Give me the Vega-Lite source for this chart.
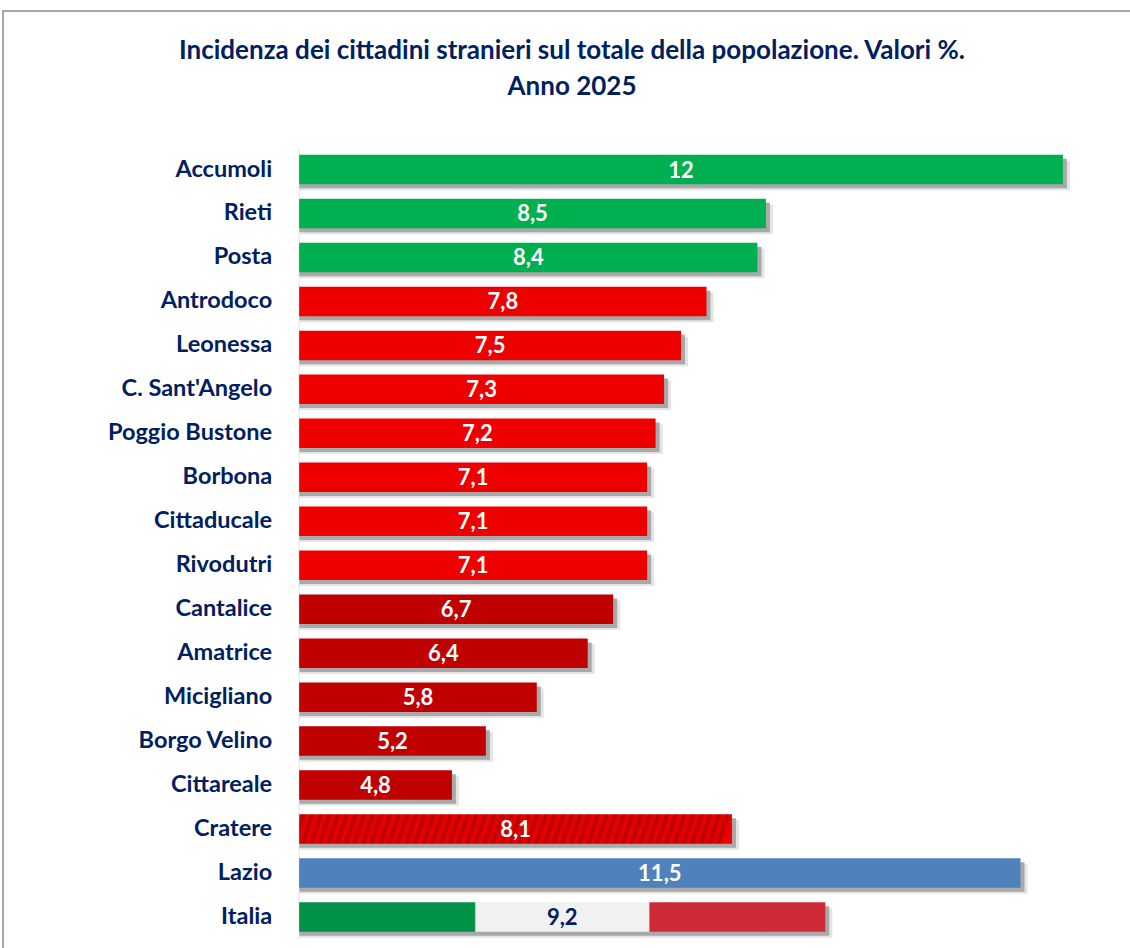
{
  "$schema": "https://vega.github.io/schema/vega-lite/v6.json",
  "width": 1138,
  "height": 1064.5,
  "autosize": {"type": "none"},
  "padding": {"left": 3, "top": 11, "right": 0, "bottom": 0},
  "background": "white",
  "config": {
    "locale": {"number": {"decimal": ",", "thousands": ".", "grouping": [3], "currency": ["€", ""]}},
    "view": {"stroke": "#8c8c8c", "strokeWidth": 1.5},
    "font": "Lato"
  },
  "title": {
    "text": ["Incidenza dei cittadini stranieri sul totale della popolazione. Valori %.", "Anno 2025"],
    "fontSize": 26,
    "font": "Lato",
    "fontWeight": "bold",
    "color": "#002060",
    "anchor": "middle",
    "frame": "group",
    "lineHeight": 36,
    "baseline": "top",
    "offset": -89
  },
  "data": {
    "values": [
      {"comune": "Accumoli", "valore": 12, "classe": "sopra"},
      {"comune": "Rieti", "valore": 8.5, "classe": "sopra"},
      {"comune": "Posta", "valore": 8.4, "classe": "sopra"},
      {"comune": "Antrodoco", "valore": 7.8, "classe": "medio"},
      {"comune": "Leonessa", "valore": 7.5, "classe": "medio"},
      {"comune": "C. Sant'Angelo", "valore": 7.3, "classe": "medio"},
      {"comune": "Poggio Bustone", "valore": 7.2, "classe": "medio"},
      {"comune": "Borbona", "valore": 7.1, "classe": "medio"},
      {"comune": "Cittaducale", "valore": 7.1, "classe": "medio"},
      {"comune": "Rivodutri", "valore": 7.1, "classe": "medio"},
      {"comune": "Cantalice", "valore": 6.7, "classe": "sotto"},
      {"comune": "Amatrice", "valore": 6.4, "classe": "sotto"},
      {"comune": "Micigliano", "valore": 5.8, "classe": "sotto"},
      {"comune": "Borgo Velino", "valore": 5.2, "classe": "sotto"},
      {"comune": "Cittareale", "valore": 4.8, "classe": "sotto"},
      {"comune": "Cratere", "valore": 8.1, "classe": "cratere"},
      {"comune": "Lazio", "valore": 11.5, "classe": "lazio"},
      {"comune": "Italia", "valore": 9.2, "classe": "italia"}
    ]
  },
  "encoding": {
    "y": {
      "field": "comune",
      "type": "nominal",
      "axis": null,
      "scale": {
        "domain": ["Accumoli", "Rieti", "Posta", "Antrodoco", "Leonessa", "C. Sant'Angelo", "Poggio Bustone", "Borbona", "Cittaducale", "Rivodutri", "Cantalice", "Amatrice", "Micigliano", "Borgo Velino", "Cittareale", "Cratere", "Lazio", "Italia"],
        "range": [143.75, 920.75],
        "paddingInner": 0.329,
        "paddingOuter": 0
      }
    }
  },
  "layer": [
    {
      "mark": {"type": "bar", "color": "#e4e4e4", "xOffset": 7, "yOffset": 6},
      "encoding": {
        "x": {"field": "valore", "type": "quantitative", "axis": null, "scale": {"domain": [-0.49, 12.92], "nice": false, "zero": false}},
        "x2": {"datum": 3}
      }
    },
    {
      "mark": {"type": "bar", "color": "#a9a9a9", "xOffset": 4, "yOffset": 4},
      "encoding": {
        "x": {"field": "valore", "type": "quantitative"},
        "x2": {"datum": 3}
      }
    },
    {
      "mark": {"type": "tick", "color": "#d9d9d9", "thickness": 1, "size": 44, "orient": "vertical"},
      "encoding": {
        "x": {"datum": 3, "type": "quantitative"}
      }
    },
    {
      "transform": [{"filter": "datum.classe !== 'cratere' && datum.classe !== 'italia'"}],
      "mark": {"type": "bar"},
      "encoding": {
        "x": {"field": "valore", "type": "quantitative"},
        "x2": {"datum": 3},
        "color": {
          "field": "classe",
          "type": "nominal",
          "legend": null,
          "scale": {"domain": ["sopra", "medio", "sotto", "lazio"], "range": ["#00B050", "#EE0000", "#C00000", "#4F81BD"]}
        }
      }
    },
    {
      "transform": [{"filter": "datum.classe === 'cratere'"}],
      "mark": {
        "type": "bar",
        "fill": {
          "gradient": "linear",
          "x1": 0, "y1": 0, "x2": 1, "y2": 0.023,
          "stops": [
            {"offset": 0, "color": "#EE0000"}, {"offset": 0.01, "color": "#B80000"},
            {"offset": 0.02, "color": "#EE0000"}, {"offset": 0.03, "color": "#B80000"},
            {"offset": 0.04, "color": "#EE0000"}, {"offset": 0.05, "color": "#B80000"},
            {"offset": 0.06, "color": "#EE0000"}, {"offset": 0.07, "color": "#B80000"},
            {"offset": 0.08, "color": "#EE0000"}, {"offset": 0.09, "color": "#B80000"},
            {"offset": 0.10, "color": "#EE0000"}, {"offset": 0.11, "color": "#B80000"},
            {"offset": 0.12, "color": "#EE0000"}, {"offset": 0.13, "color": "#B80000"},
            {"offset": 0.14, "color": "#EE0000"}, {"offset": 0.15, "color": "#B80000"},
            {"offset": 0.16, "color": "#EE0000"}, {"offset": 0.17, "color": "#B80000"},
            {"offset": 0.18, "color": "#EE0000"}, {"offset": 0.19, "color": "#B80000"},
            {"offset": 0.20, "color": "#EE0000"}, {"offset": 0.21, "color": "#B80000"},
            {"offset": 0.22, "color": "#EE0000"}, {"offset": 0.23, "color": "#B80000"},
            {"offset": 0.24, "color": "#EE0000"}, {"offset": 0.25, "color": "#B80000"},
            {"offset": 0.26, "color": "#EE0000"}, {"offset": 0.27, "color": "#B80000"},
            {"offset": 0.28, "color": "#EE0000"}, {"offset": 0.29, "color": "#B80000"},
            {"offset": 0.30, "color": "#EE0000"}, {"offset": 0.31, "color": "#B80000"},
            {"offset": 0.32, "color": "#EE0000"}, {"offset": 0.33, "color": "#B80000"},
            {"offset": 0.34, "color": "#EE0000"}, {"offset": 0.35, "color": "#B80000"},
            {"offset": 0.36, "color": "#EE0000"}, {"offset": 0.37, "color": "#B80000"},
            {"offset": 0.38, "color": "#EE0000"}, {"offset": 0.39, "color": "#B80000"},
            {"offset": 0.40, "color": "#EE0000"}, {"offset": 0.41, "color": "#B80000"},
            {"offset": 0.42, "color": "#EE0000"}, {"offset": 0.43, "color": "#B80000"},
            {"offset": 0.44, "color": "#EE0000"}, {"offset": 0.45, "color": "#B80000"},
            {"offset": 0.46, "color": "#EE0000"}, {"offset": 0.47, "color": "#B80000"},
            {"offset": 0.48, "color": "#EE0000"}, {"offset": 0.49, "color": "#B80000"},
            {"offset": 0.50, "color": "#EE0000"}, {"offset": 0.51, "color": "#B80000"},
            {"offset": 0.52, "color": "#EE0000"}, {"offset": 0.53, "color": "#B80000"},
            {"offset": 0.54, "color": "#EE0000"}, {"offset": 0.55, "color": "#B80000"},
            {"offset": 0.56, "color": "#EE0000"}, {"offset": 0.57, "color": "#B80000"},
            {"offset": 0.58, "color": "#EE0000"}, {"offset": 0.59, "color": "#B80000"},
            {"offset": 0.60, "color": "#EE0000"}, {"offset": 0.61, "color": "#B80000"},
            {"offset": 0.62, "color": "#EE0000"}, {"offset": 0.63, "color": "#B80000"},
            {"offset": 0.64, "color": "#EE0000"}, {"offset": 0.65, "color": "#B80000"},
            {"offset": 0.66, "color": "#EE0000"}, {"offset": 0.67, "color": "#B80000"},
            {"offset": 0.68, "color": "#EE0000"}, {"offset": 0.69, "color": "#B80000"},
            {"offset": 0.70, "color": "#EE0000"}, {"offset": 0.71, "color": "#B80000"},
            {"offset": 0.72, "color": "#EE0000"}, {"offset": 0.73, "color": "#B80000"},
            {"offset": 0.74, "color": "#EE0000"}, {"offset": 0.75, "color": "#B80000"},
            {"offset": 0.76, "color": "#EE0000"}, {"offset": 0.77, "color": "#B80000"},
            {"offset": 0.78, "color": "#EE0000"}, {"offset": 0.79, "color": "#B80000"},
            {"offset": 0.80, "color": "#EE0000"}, {"offset": 0.81, "color": "#B80000"},
            {"offset": 0.82, "color": "#EE0000"}, {"offset": 0.83, "color": "#B80000"},
            {"offset": 0.84, "color": "#EE0000"}, {"offset": 0.85, "color": "#B80000"},
            {"offset": 0.86, "color": "#EE0000"}, {"offset": 0.87, "color": "#B80000"},
            {"offset": 0.88, "color": "#EE0000"}, {"offset": 0.89, "color": "#B80000"},
            {"offset": 0.90, "color": "#EE0000"}, {"offset": 0.91, "color": "#B80000"},
            {"offset": 0.92, "color": "#EE0000"}, {"offset": 0.93, "color": "#B80000"},
            {"offset": 0.94, "color": "#EE0000"}, {"offset": 0.95, "color": "#B80000"},
            {"offset": 0.96, "color": "#EE0000"}, {"offset": 0.97, "color": "#B80000"},
            {"offset": 0.98, "color": "#EE0000"}, {"offset": 0.99, "color": "#B80000"},
            {"offset": 1, "color": "#EE0000"}
          ]
        }
      },
      "encoding": {
        "x": {"field": "valore", "type": "quantitative"},
        "x2": {"datum": 3}
      }
    },
    {
      "transform": [{"filter": "datum.classe === 'italia'"}],
      "mark": {
        "type": "bar",
        "fill": {
          "gradient": "linear",
          "x1": 0, "y1": 0, "x2": 1, "y2": 0,
          "stops": [
            {"offset": 0, "color": "#009246"},
            {"offset": 0.333, "color": "#009246"},
            {"offset": 0.336, "color": "#F1F1F1"},
            {"offset": 0.664, "color": "#F1F1F1"},
            {"offset": 0.667, "color": "#CE2B37"},
            {"offset": 1, "color": "#CE2B37"}
          ]
        }
      },
      "encoding": {
        "x": {"field": "valore", "type": "quantitative"},
        "x2": {"datum": 3}
      }
    },
    {
      "transform": [{"calculate": "(datum.valore + 3) / 2", "as": "centro"}],
      "mark": {"type": "text", "font": "Lato", "fontWeight": "bold", "fontSize": 22, "align": "center", "baseline": "middle", "dy": 1},
      "encoding": {
        "x": {"field": "centro", "type": "quantitative"},
        "text": {"field": "valore", "type": "quantitative", "format": ".1~f"},
        "color": {"condition": {"test": "datum.classe === 'italia'", "value": "#002060"}, "value": "#FFFFFF"}
      }
    },
    {
      "mark": {"type": "text", "font": "Lato", "fontWeight": "bold", "fontSize": 23.5, "align": "right", "baseline": "middle", "dx": -27, "color": "#002060"},
      "encoding": {
        "x": {"datum": 3, "type": "quantitative"},
        "text": {"field": "comune", "type": "nominal"}
      }
    }
  ]
}
